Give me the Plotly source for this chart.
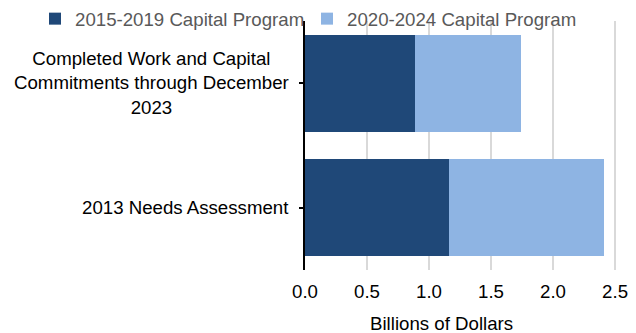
import plotly.graph_objects as go

# Categories (top to bottom) and values in billions of dollars
categories = [
    "Completed Work and Capital<br>Commitments through December<br>2023",
    "2013 Needs Assessment",
]
program_2015_2019 = [0.89, 1.16]
program_2020_2024 = [0.85, 1.25]
series_names = ["2015-2019 Capital Program", "2020-2024 Capital Program"]
x_ticks = [0.0, 0.5, 1.0, 1.5, 2.0, 2.5]
x_title = "Billions of Dollars"

DARK = "#1F4878"
LIGHT = "#8EB4E3"
FONT = "Liberation Sans, Arial, sans-serif"
FS = 18.67

W, H = 636, 333
ML, MR, MT, MB = 305, 0, 21, 63
PW = W - ML - MR


def px_to_paper(px):
    return (px - ML) / PW


fig = go.Figure()
fig.add_trace(go.Bar(
    y=categories, x=program_2015_2019, name=series_names[0], orientation="h",
    marker=dict(color=DARK, line=dict(width=0)),
))
fig.add_trace(go.Bar(
    y=categories, x=program_2020_2024, name=series_names[1], orientation="h",
    marker=dict(color=LIGHT, line=dict(width=0)),
))

# Category labels drawn as centred multi-line text to the left of the axis
for cat in categories:
    fig.add_annotation(
        text=cat, xref="paper", yref="y", x=0, y=cat,
        xanchor="right", yanchor="middle", xshift=-14, align="center",
        showarrow=False, font=dict(family=FONT, size=FS, color="#000000"),
    )

# Axis title
fig.add_annotation(
    text=x_title, xref="paper", yref="paper", x=px_to_paper(441),
    y=-(323 - (H - MB)) / (H - MT - MB),
    xanchor="center", yanchor="middle", showarrow=False,
    font=dict(family=FONT, size=FS, color="#000000"),
)

fig.update_layout(
    width=W, height=H,
    margin=dict(l=ML, r=MR, t=MT, b=MB, pad=0),
    barmode="stack", bargap=0.22,
    plot_bgcolor="white", paper_bgcolor="white",
    font=dict(family=FONT, size=FS, color="#000000"),
    showlegend=True,
    legend=dict(
        orientation="h", x=px_to_paper(35), xanchor="left",
        y=1.008, yanchor="middle",
        font=dict(family=FONT, size=FS, color="#595959"),
        bgcolor="rgba(0,0,0,0)", itemwidth=30, traceorder="normal",
        entrywidth=227, entrywidthmode="pixels",
    ),
    xaxis=dict(
        range=[0, 2.669], tickvals=x_ticks, ticktext=[f"{v:.1f}" for v in x_ticks],
        showgrid=True, gridcolor="#D9D9D9", gridwidth=2,
        zeroline=False, showline=False, ticks="", ticklabelstandoff=8,
        tickfont=dict(family=FONT, size=FS, color="#000000"),
        fixedrange=True,
    ),
    yaxis=dict(
        autorange="reversed", showticklabels=False,
        showline=True, linecolor="#000000", linewidth=2,
        ticks="outside", ticklen=4, tickwidth=2, tickcolor="#000000",
        showgrid=False, fixedrange=True,
    ),
)

fig.write_html("out.html")
